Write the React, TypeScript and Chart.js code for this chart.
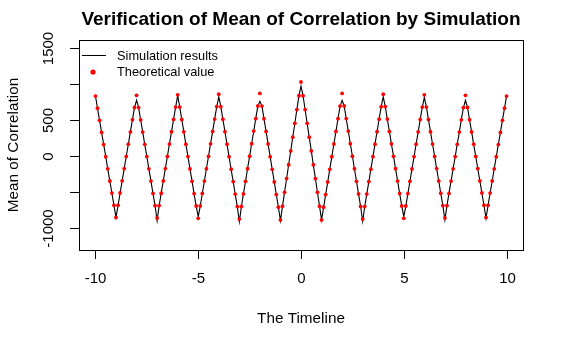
import { useEffect, useRef } from "react";
import { Chart, registerables } from "chart.js";

Chart.register(...registerables);

// Timeline grid: -10 to 10 in steps of 0.1
const xStart = -10;
const xStep = 0.1;

// Theoretical values (red points)
const theoretical: number[] = [
  830, 662, 493, 325, 156, -13, -181, -350, -518, -687, -855,
  -686, -516, -347, -177, -8, 162, 332, 501, 671, 840,
  670, 500, 329, 159, -11, -181, -351, -522, -692, -862,
  -691, -520, -349, -178, -8, 163, 334, 505, 676, 847,
  676, 504, 333, 161, -11, -182, -354, -525, -697, -868,
  -696, -523, -351, -179, -7, 166, 338, 510, 683, 855,
  682, 508, 335, 162, -12, -185, -358, -531, -705, -878,
  -704, -529, -355, -180, -6, 168, 343, 517, 692, 866,
  690, 515, 339, 164, -12, -188, -363, -539, -714, -890,
  -699, -507, -316, -124, 68, 259, 451, 642, 834, 1025,
  834, 642, 451, 259, 68, -124, -316, -507, -699, -890,
  -714, -539, -363, -188, -12, 164, 339, 515, 690, 866,
  692, 517, 343, 168, -6, -180, -355, -529, -704, -878,
  -705, -531, -358, -185, -12, 162, 335, 508, 682, 855,
  683, 510, 338, 166, -7, -179, -351, -523, -696, -868,
  -697, -525, -354, -182, -11, 161, 333, 504, 676, 847,
  676, 505, 334, 163, -8, -178, -349, -520, -691, -862,
  -692, -522, -351, -181, -11, 159, 329, 500, 670, 840,
  671, 501, 332, 162, -8, -177, -347, -516, -686, -855,
  -687, -518, -350, -181, -13, 156, 325, 493, 662, 830,
];

// Simulation results (black line)
const simulation: number[] = [
  832, 660, 495, 322, 158, -10, -184, -348, -520, -684, -855,
  -690, -514, -350, -175, -6, 160, 335, 498, 668, 772,
  672, 497, 331, 156, -9, -184, -348, -525, -690, -900,
  -694, -518, -352, -176, -10, 166, 331, 507, 673, 835,
  679, 502, 336, 158, -8, -185, -351, -528, -694, -845,
  -699, -520, -354, -176, -9, 169, 335, 513, 680, 818,
  685, 505, 338, 159, -9, -188, -355, -534, -702, -915,
  -707, -526, -358, -177, -9, 171, 340, 520, 689, 757,
  693, 512, 342, 161, -9, -191, -360, -542, -711, -900,
  -702, -504, -319, -121, 65, 262, 448, 645, 831, 968,
  837, 639, 454, 256, 71, -127, -313, -510, -696, -890,
  -717, -536, -366, -185, -15, 167, 336, 518, 687, 770,
  695, 514, 346, 165, -3, -183, -352, -532, -701, -910,
  -708, -528, -361, -182, -15, 165, 332, 511, 679, 818,
  686, 507, 341, 163, -4, -182, -348, -526, -693, -845,
  -700, -522, -357, -179, -14, 164, 330, 507, 673, 810,
  679, 502, 337, 160, -5, -181, -346, -523, -688, -890,
  -695, -519, -354, -178, -14, 162, 326, 503, 667, 770,
  674, 498, 335, 159, -5, -180, -344, -519, -683, -870,
  -690, -515, -353, -178, -16, 159, 322, 496, 659, 828,
];

const xTicks = [-10, -5, 0, 5, 10];
const xTickLabels = ["-10", "-5", "0", "5", "10"];
const yTicks = [-1000, -500, 0, 500, 1000, 1500];
const yTickLabels = ["-1000", "", "0", "500", "", "1500"];

const titleText = "Verification of Mean of Correlation by Simulation";
const xTitle = "The Timeline";
const yTitle = "Mean of Correlation";
const legendLabels = ["Simulation results", "Theoretical value"];

const FONT = '"Liberation Sans", Arial, sans-serif';

const rAxesPlugin = {
  id: "rAxes",
  afterDraw(chart: any) {
    const { ctx, chartArea } = chart;
    const xs = chart.scales.x;
    const ys = chart.scales.y;
    ctx.save();
    ctx.strokeStyle = "#000";
    ctx.fillStyle = "#000";
    ctx.lineWidth = 1;
    // box
    ctx.strokeRect(
      Math.round(chartArea.left) + 0.5,
      Math.round(chartArea.top) + 0.5,
      Math.round(chartArea.right - chartArea.left),
      Math.round(chartArea.bottom - chartArea.top)
    );
    // x ticks
    ctx.font = `15px ${FONT}`;
    ctx.textAlign = "center";
    ctx.textBaseline = "middle";
    xTicks.forEach((v, i) => {
      const px = Math.round(xs.getPixelForValue(v)) + 0.5;
      ctx.beginPath();
      ctx.moveTo(px, chartArea.bottom);
      ctx.lineTo(px, chartArea.bottom + 9);
      ctx.stroke();
      ctx.fillText(xTickLabels[i], px, 279);
    });
    // y ticks
    yTicks.forEach((v, i) => {
      const py = Math.round(ys.getPixelForValue(v)) + 0.5;
      ctx.beginPath();
      ctx.moveTo(chartArea.left - 9, py);
      ctx.lineTo(chartArea.left, py);
      ctx.stroke();
      if (yTickLabels[i]) {
        ctx.save();
        ctx.translate(49, py);
        ctx.rotate(-Math.PI / 2);
        ctx.fillText(yTickLabels[i], 0, 0);
        ctx.restore();
      }
    });
    // axis titles
    const cx = (chartArea.left + chartArea.right) / 2;
    const cy = (chartArea.top + chartArea.bottom) / 2;
    ctx.font = `15.3px ${FONT}`;
    ctx.fillText(xTitle, cx, 319);
    ctx.save();
    ctx.translate(14, cy);
    ctx.rotate(-Math.PI / 2);
    ctx.fillText(yTitle, 0, 0);
    ctx.restore();
    // main title
    ctx.font = `bold 19px ${FONT}`;
    ctx.fillText(titleText, cx, 20);
    // legend
    ctx.font = `12.8px ${FONT}`;
    ctx.textAlign = "left";
    ctx.beginPath();
    ctx.moveTo(82, 55.5);
    ctx.lineTo(106, 55.5);
    ctx.stroke();
    ctx.fillText(legendLabels[0], 117, 56);
    ctx.fillStyle = "#ff0000";
    ctx.beginPath();
    ctx.arc(93, 72, 2.6, 0, Math.PI * 2);
    ctx.fill();
    ctx.fillStyle = "#000";
    ctx.fillText(legendLabels[1], 117, 72);
    ctx.restore();
  },
};

export default function App() {
  const ref = useRef<HTMLCanvasElement | null>(null);
  useEffect(() => {
    if (!ref.current) return;
    const xs = theoretical.map((_, i) => Math.round((xStart + i * xStep) * 10) / 10);
    const chart = new Chart(ref.current, {
      type: "scatter",
      data: {
        datasets: [
          {
            label: legendLabels[1],
            data: xs.map((x, i) => ({ x, y: theoretical[i] })),
            showLine: false,
            pointRadius: 1.9,
            pointBorderWidth: 0,
            pointBackgroundColor: "#ff0000",
            order: 0,
          },
          {
            label: legendLabels[0],
            data: xs.map((x, i) => ({ x, y: simulation[i] })),
            showLine: true,
            borderColor: "#000000",
            borderWidth: 1.1,
            pointRadius: 0,
            tension: 0,
            order: 1,
          },
        ],
      },
      options: {
        animation: false,
        responsive: false,
        devicePixelRatio: 1,
        layout: { padding: { left: 79, top: 40, right: 41, bottom: 98 } },
        scales: {
          x: { type: "linear", min: -10.8, max: 10.8, display: false },
          y: { type: "linear", min: -1308, max: 1608, display: false },
        },
        plugins: {
          legend: { display: false },
          title: { display: false },
          tooltip: { enabled: false },
        },
      },
      plugins: [rAxesPlugin],
    });
    return () => chart.destroy();
  }, []);
  return (
    <div style={{ position: "fixed", left: 0, top: 0, width: 564, height: 348, background: "#fff" }}>
      <canvas ref={ref} width={564} height={348} style={{ display: "block" }} />
    </div>
  );
}
